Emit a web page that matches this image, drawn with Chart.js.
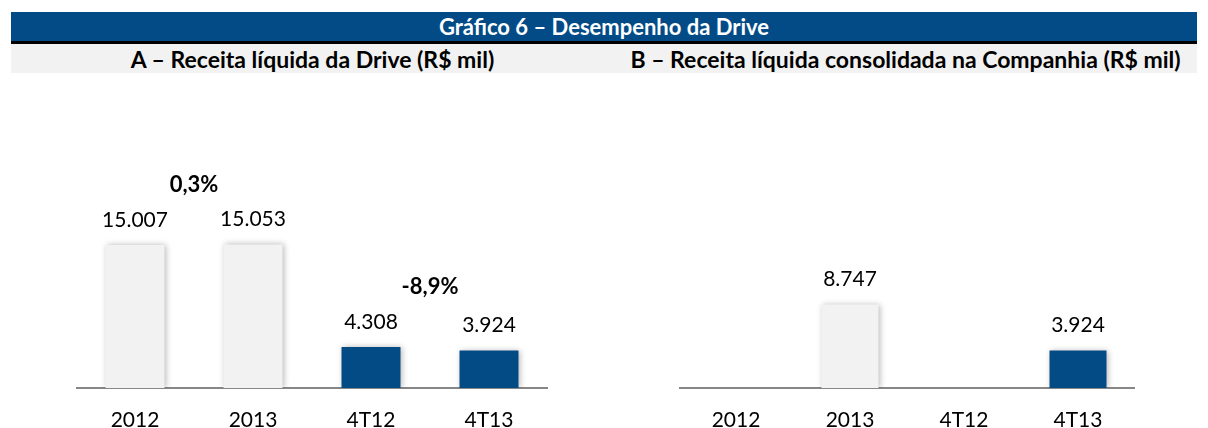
<!DOCTYPE html>
<html>
<head>
<meta charset="utf-8">
<script src="https://cdn.jsdelivr.net/npm/chart.js@4.4.1/dist/chart.umd.min.js"></script>
<style>
  body { margin: 0; background: #fff; font-family: Lato, sans-serif; }
  #page { position: relative; width: 1208px; height: 428px; overflow: hidden; }
  .head { position: absolute; left: 11px; width: 1186px; top: 12px; height: 29px;
          background: #034b87; color: #fff; font-weight: bold; font-size: 22px;
          text-align: center; line-height: 30px; border-bottom: 3px solid #000; }
  .sub { position: absolute; top: 44px; height: 29px; background: #f2f2f2;
         font-weight: bold; font-size: 23px; line-height: 30px; text-align: center; color: #000; }
  .panel { position: absolute; top: 80px; height: 348px; }
</style>
</head>
<body>
<div id="page">
  <div class="head">Gráfico 6 – Desempenho da Drive</div>
  <div class="sub" style="left:11px;width:603px;">A – Receita líquida da Drive (R$ mil)</div>
  <div class="sub" style="left:614px;width:583px;">B – Receita líquida consolidada na Companhia (R$ mil)</div>
  <div class="panel" style="left:76px;width:472px;"><canvas id="chartA"></canvas></div>
  <div class="panel" style="left:679px;width:456px;"><canvas id="chartB"></canvas></div>
</div>
<script>
const categories = ['2012', '2013', '4T12', '4T13'];
const driveRevenue = [15007, 15053, 4308, 3924];
const consolidatedRevenue = [null, 8747, null, 3924];
const driveLabels = ['15.007', '15.053', '4.308', '3.924'];
const consolidatedLabels = ['', '8.747', '', '3.924'];
const driveVariations = [
    { from: 0, to: 1, text: '0,3%' },
    { from: 2, to: 3, text: '-8,9%' }
];
const barColors = ['#f2f2f2', '#f2f2f2', '#034b85', '#034b85'];

// shadow behind the bars
const barShadow = {
    id: 'barShadow',
    beforeDatasetDraw(chart) {
        const ctx = chart.ctx;
        ctx.save();
        ctx.shadowColor = 'rgba(0,0,0,0.28)';
        ctx.shadowBlur = 6;
        ctx.shadowOffsetX = 1;
        ctx.shadowOffsetY = 0;
    },
    afterDatasetDraw(chart) {
        chart.ctx.restore();
    }
};

// values above bars + variation labels
const barLabels = {
    id: 'barLabels',
    afterDatasetsDraw(chart, args, opts) {
        const ctx = chart.ctx;
        const bars = chart.getDatasetMeta(0).data;
        ctx.save();
        ctx.textAlign = 'center';
        ctx.textBaseline = 'middle';
        ctx.fillStyle = '#000';
        ctx.font = '21px Lato';
        bars.forEach((bar, i) => {
            const txt = opts.labels[i];
            if (!txt) return;
            ctx.fillText(txt, bar.x, bar.y - 25);
        });
        ctx.font = 'bold 22px Lato';
        (opts.variations || []).forEach(v => {
            const a = bars[v.from], b = bars[v.to];
            const top = Math.min(a.y, b.y);
            ctx.fillText(v.text, (a.x + b.x) / 2, top - 60);
        });
        ctx.restore();
    }
};

function makeChart(id, values, labels, variations) {
    return new Chart(document.getElementById(id), {
        type: 'bar',
        data: {
            labels: categories,
            datasets: [{
                data: values,
                backgroundColor: barColors,
                borderWidth: 0,
                categoryPercentage: 1,
                barPercentage: 0.5
            }]
        },
        options: {
            responsive: true,
            maintainAspectRatio: false,
            animation: false,
            layout: { padding: 0 },
            plugins: {
                legend: { display: false },
                tooltip: { enabled: false },
                barLabels: { labels: labels, variations: variations }
            },
            scales: {
                x: {
                    grid: { display: false, drawTicks: false },
                    border: { display: true, color: '#878787', width: 2 },
                    ticks: { color: '#000', font: { family: 'Lato', size: 21 }, padding: 20 },
                    afterFit(scale) { scale.height = 40; }
                },
                y: { display: false, min: 0, max: 32300 }
            }
        },
        plugins: [barShadow, barLabels]
    });
}

makeChart('chartA', driveRevenue, driveLabels, driveVariations);
makeChart('chartB', consolidatedRevenue, consolidatedLabels, []);
</script>
</body>
</html>
